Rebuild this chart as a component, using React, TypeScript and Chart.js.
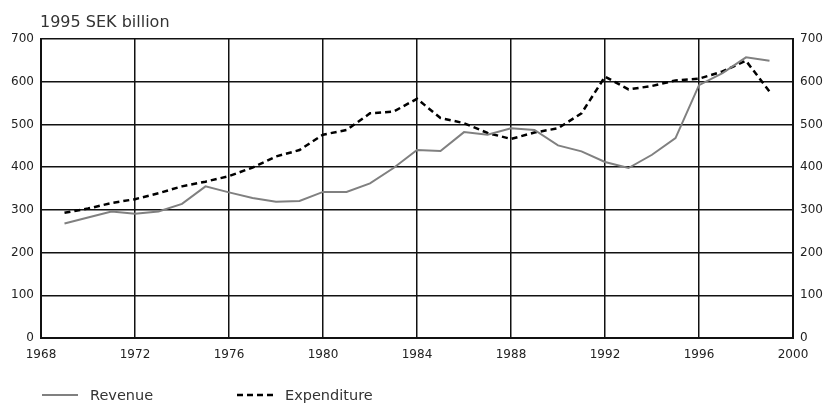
import React, { useEffect, useRef } from "react";
import { Chart, registerables } from "chart.js";

Chart.register(...registerables);

const years = [
  1969, 1970, 1971, 1972, 1973, 1974, 1975, 1976, 1977, 1978, 1979, 1980, 1981, 1982, 1983, 1984,
  1985, 1986, 1987, 1988, 1989, 1990, 1991, 1992, 1993, 1994, 1995, 1996, 1997, 1998, 1999,
];
const revenue = [
  268, 282, 296, 291, 296, 314, 355, 341, 328, 319, 321, 342, 342, 362, 398, 440,
  438, 482, 476, 491, 487, 451, 437, 412, 398, 429, 468, 592, 620, 657, 649,
];
const expenditure = [
  293, 303, 316, 325, 339, 355, 366, 379, 399, 425, 440, 476, 487, 526, 530, 560,
  515, 503, 480, 466, 481, 491, 526, 612, 582, 590, 603, 607, 624, 649, 577,
];
const seriesNames = ["Revenue", "Expenditure"];
const unitLabel = "1995 SEK billion";

const FONT = "'DejaVu Sans', Verdana, sans-serif";

const overlayPlugin = {
  id: "overlay",
  afterDraw(chart: any) {
    const ctx = chart.ctx;
    ctx.save();
    ctx.fillStyle = "#333";
    ctx.font = `16px ${FONT}`;
    ctx.textBaseline = "alphabetic";
    ctx.textAlign = "left";
    ctx.fillText(unitLabel, 40, 27);

    const ly = 395;
    ctx.lineWidth = 2;
    ctx.strokeStyle = "#808080";
    ctx.setLineDash([]);
    ctx.beginPath();
    ctx.moveTo(42, ly);
    ctx.lineTo(78, ly);
    ctx.stroke();

    ctx.lineWidth = 2.5;
    ctx.strokeStyle = "#000";
    ctx.setLineDash([6, 4]);
    ctx.beginPath();
    ctx.moveTo(237, ly);
    ctx.lineTo(274, ly);
    ctx.stroke();
    ctx.setLineDash([]);

    ctx.fillStyle = "#333";
    ctx.font = `14.5px ${FONT}`;
    ctx.textBaseline = "middle";
    ctx.fillText(seriesNames[0], 90, ly + 1);
    ctx.fillText(seriesNames[1], 285, ly + 1);
    ctx.restore();
  },
};

export default function App() {
  const ref = useRef<HTMLCanvasElement>(null);
  useEffect(() => {
    if (!ref.current) return;
    const tickFont = { family: FONT, size: 12 };
    const chart = new Chart(ref.current, {
      type: "line",
      data: {
        datasets: [
          {
            label: seriesNames[0],
            data: years.map((y, i) => ({ x: y, y: revenue[i] })),
            borderColor: "#808080",
            borderWidth: 2,
            pointRadius: 0,
            tension: 0,
            yAxisID: "y",
          },
          {
            label: seriesNames[1],
            data: years.map((y, i) => ({ x: y, y: expenditure[i] })),
            borderColor: "#000",
            borderWidth: 2.5,
            borderDash: [6, 4],
            pointRadius: 0,
            tension: 0,
            yAxisID: "y",
          },
        ],
      },
      options: {
        animation: false,
        responsive: false,
        maintainAspectRatio: false,
        layout: { padding: { top: 39, bottom: 40, left: 0, right: 0 } },
        plugins: { legend: { display: false }, tooltip: { enabled: false }, title: { display: false } },
        scales: {
          x: {
            type: "linear",
            min: 1968,
            max: 2000,
            ticks: { stepSize: 4, color: "#222", font: tickFont, padding: 10, callback: (v: any) => String(v) },
            grid: { color: "#111", lineWidth: 1.5, drawTicks: false },
            border: { color: "#111", width: 2 },
            afterFit: (s: any) => { s.height = 26; },
          },
          y: {
            position: "left",
            min: 0,
            max: 700,
            ticks: { stepSize: 100, color: "#222", font: tickFont, padding: 7 },
            grid: { color: "#111", lineWidth: 1.5, drawTicks: false },
            border: { color: "#111", width: 2 },
            afterFit: (s: any) => { s.width = 41; },
          },
          y2: {
            position: "right",
            min: 0,
            max: 700,
            ticks: { stepSize: 100, color: "#222", font: tickFont, padding: 7 },
            grid: { display: false, drawTicks: false },
            border: { color: "#111", width: 2 },
            afterFit: (s: any) => { s.width = 32; },
          },
        },
      },
      plugins: [overlayPlugin],
    });
    return () => chart.destroy();
  }, []);
  return (
    <div style={{ position: "absolute", left: 0, top: 0, width: 825, height: 404, background: "#fff" }}>
      <canvas ref={ref} width={825} height={404} style={{ display: "block" }} />
    </div>
  );
}
